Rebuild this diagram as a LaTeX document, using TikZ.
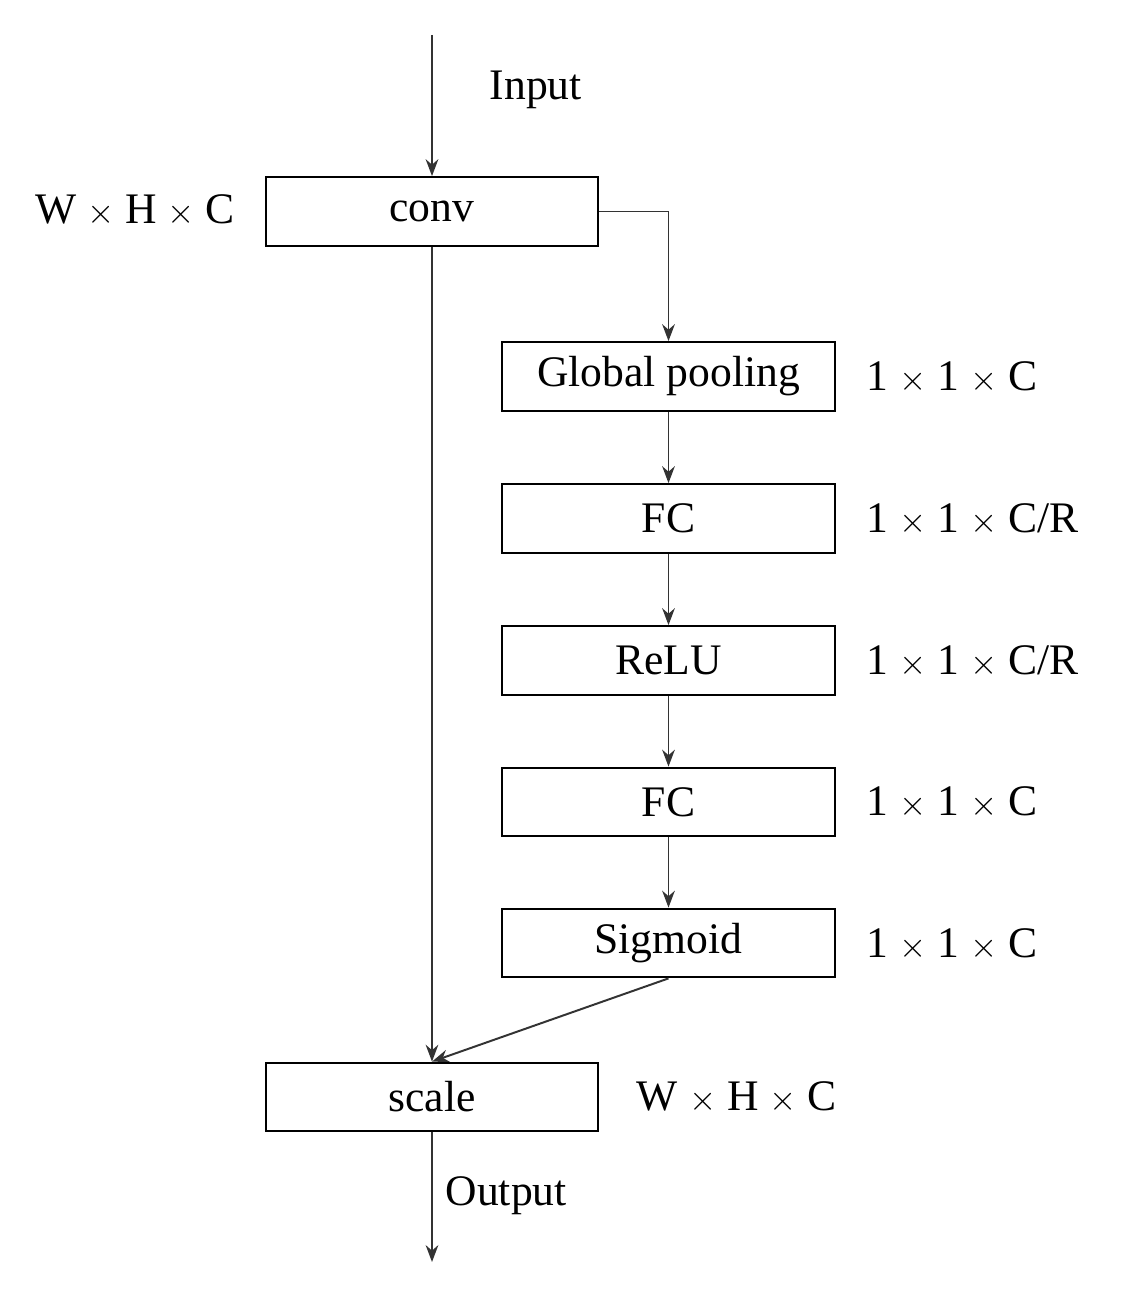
\documentclass[tikz,border=0pt]{standalone}
\usepackage{fontspec}
\setmainfont{Liberation Serif}
\usetikzlibrary{positioning,arrows.meta}
\begin{document}
\begin{tikzpicture}[x=0.025cm,y=-0.025cm,font=\fontsize{31}{36}\selectfont]
        % Setup the styles
        \tikzset{box style/.style={draw, line width=1.4pt, minimum width=8.3cm,
                                   minimum height=1.72cm, inner sep=0pt},
                 flow/.style={draw=black!80, line width=1.4pt, -{Stealth[length=12pt,width=9pt]}}}
        \useasboundingbox (0,0) rectangle (1134,1299);

        % Draw the blocks
        \node[box style] at (432,211.5)  (conv)    {conv};
        \node[box style] at (668.5,376.5) (pool)   {Global pooling};
        \node[box style] at (668.5,518.5) (fc1)    {FC};
        \node[box style] at (668.5,660.5) (relu)   {ReLU};
        \node[box style] at (668.5,802)   (fc2)    {FC};
        \node[box style] at (668.5,943)   (sigm)   {Sigmoid};
        \node[box style] at (432,1097)    (scale)  {scale};

        % Sizes
        \node at (135,211)  (sconv)  {W $\times$ H $\times$ C};
        \node[anchor=west] at (862,378) (spool) {1 $\times$ 1 $\times$ C};
        \node[anchor=west] at (862,520) (sfc1)  {1 $\times$ 1 $\times$ C/R};
        \node[anchor=west] at (862,662) (srelu) {1 $\times$ 1 $\times$ C/R};
        \node[anchor=west] at (862,803) (sfc2)  {1 $\times$ 1 $\times$ C};
        \node[anchor=west] at (862,945) (ssigm) {1 $\times$ 1 $\times$ C};
        \node[anchor=west] at (632,1098) (sscale) {W $\times$ H $\times$ C};

        % Connect the blocks
        \coordinate (in)  at (432,35);
        \coordinate (out) at (432,1262);
        \draw[flow] (in) -- node[right=1.3cm, yshift=0.4cm] {Input} (conv);
        \draw[flow] (conv.east) -| (pool);
        \draw[flow] (conv) -- (scale);
        \draw[flow] (pool) -- (fc1);
        \draw[flow] (fc1) -- (relu);
        \draw[flow] (relu) -- (fc2);
        \draw[flow] (fc2) -- (sigm);
        \draw[flow] (sigm.south) -- (scale.north);
        \draw[flow] (scale) -- node[right=0.2cm, yshift=0.05cm] {Output} (out);
\end{tikzpicture}
\end{document}
